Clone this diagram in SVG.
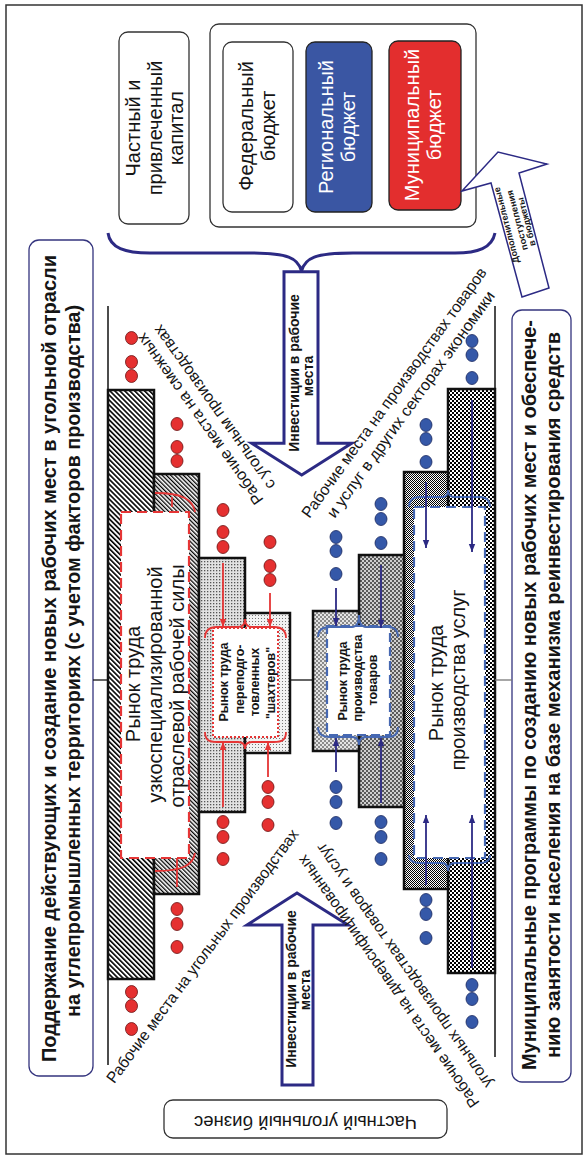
<svg xmlns="http://www.w3.org/2000/svg" width="586" height="1157" viewBox="0 0 586 1157">
<defs>
<style>
text{font-family:"Liberation Sans",Arial,sans-serif;fill:#151515}
.b{font-weight:bold}
.w{fill:#fff}
.box{fill:#fff;stroke:#333;stroke-width:1.3}
.nbox{fill:#fff;stroke:#34347e;stroke-width:1.3}
.arrow{fill:#fff;stroke:#2c2a84;stroke-width:3}
.brace{fill:none;stroke:#2c2a84;stroke-width:3}
.rl{stroke:#e53535;stroke-width:1.8;fill:none}
.bl{stroke:#2c2a84;stroke-width:1.8;fill:none}
.bbr{stroke:#4668b2;stroke-width:1.8;fill:none}
.step{stroke:#111;stroke-width:2.5}
.rd{fill:#e53030;stroke:#6a1010;stroke-width:0.8}
.bd{fill:#3558a8;stroke:#1a2860;stroke-width:0.8}
</style>
<marker id="mr" viewBox="0 0 10 10" refX="10" refY="5" markerWidth="8" markerHeight="8" markerUnits="userSpaceOnUse" orient="auto"><path d="M0,1 L10,5 L0,9 z" fill="#e53535"/></marker>
<marker id="mb" viewBox="0 0 10 10" refX="10" refY="5" markerWidth="8" markerHeight="8" markerUnits="userSpaceOnUse" orient="auto"><path d="M0,1 L10,5 L0,9 z" fill="#2c2a84"/></marker>
<pattern id="hA" width="3.5" height="3.5" patternUnits="userSpaceOnUse" patternTransform="rotate(-45)"><rect width="3.5" height="3.5" fill="#fff"/><rect width="1.6" height="3.5" fill="#000"/></pattern>
<pattern id="hB" width="3" height="3" patternUnits="userSpaceOnUse" patternTransform="rotate(-45)"><rect width="3" height="3" fill="#fff"/><rect width="1.3" height="3" fill="#000"/></pattern>
<pattern id="dA" width="3" height="3" patternUnits="userSpaceOnUse"><rect width="3" height="3" fill="#e2e2e2"/><rect width="1.3" height="1.3" fill="#555"/></pattern>
<pattern id="dB" width="3" height="3" patternUnits="userSpaceOnUse"><rect width="3" height="3" fill="#f2f2f2"/><rect width="1" height="1" fill="#777"/></pattern>
<pattern id="cA" width="4" height="4" patternUnits="userSpaceOnUse"><rect width="4" height="4" fill="#fff"/><rect width="2" height="2" fill="#000"/><rect x="2" y="2" width="2" height="2" fill="#000"/></pattern>
<pattern id="cB" width="2" height="2" patternUnits="userSpaceOnUse"><rect width="2" height="2" fill="#fff"/><rect width="1" height="1" fill="#000"/><rect x="1" y="1" width="1" height="1" fill="#000"/></pattern>
<pattern id="cC" width="4" height="4" patternUnits="userSpaceOnUse"><rect width="4" height="4" fill="#cfcfcf"/><rect width="2" height="2" fill="#5a5a5a"/><rect x="2" y="2" width="2" height="2" fill="#5a5a5a"/></pattern>
<pattern id="cD" width="4" height="4" patternUnits="userSpaceOnUse"><rect width="4" height="4" fill="#e4e4e4"/><rect width="2" height="2" fill="#8a8a8a"/><rect x="2" y="2" width="2" height="2" fill="#8a8a8a"/></pattern>
<ellipse id="dr" rx="6" ry="6.5" class="rd"/>
<ellipse id="db" rx="6" ry="6.5" class="bd"/>
</defs>

<rect id="frame" x="6" y="5" width="576" height="1149" fill="#fff" stroke="#333" stroke-width="1.5"/>

<g id="node-left-title">
<rect class="nbox" x="29" y="240" width="64" height="836" rx="10"/>
<text class="b" font-size="20" text-anchor="middle" transform="translate(56,658.5) rotate(-90)" textLength="807" lengthAdjust="spacingAndGlyphs">Поддержание действующих и создание новых рабочих мест в угольной отрасли</text>
<text class="b" font-size="20" text-anchor="middle" transform="translate(80,661) rotate(-90)" textLength="712" lengthAdjust="spacingAndGlyphs">на углепромышленных территориях (с учетом факторов производства)</text>
</g>

<g id="node-right-title">
<rect class="nbox" x="512" y="310" width="59" height="772" rx="10"/>
<text class="b" font-size="20" text-anchor="middle" transform="translate(536,695) rotate(-90)" textLength="750" lengthAdjust="spacingAndGlyphs">Муниципальные программы по созданию новых рабочих мест и обеспече-</text>
<text class="b" font-size="20" text-anchor="middle" transform="translate(560,695) rotate(-90)" textLength="726" lengthAdjust="spacingAndGlyphs">нию занятости населения на базе механизма реинвестирования средств</text>
</g>

<g id="node-private-capital">
<rect class="box" x="119" y="32" width="70" height="192" rx="9"/>
<text font-size="20" text-anchor="middle" transform="translate(140,128) rotate(-90)">Частный и</text>
<text font-size="20" text-anchor="middle" transform="translate(161.5,128) rotate(-90)">привлеченный</text>
<text font-size="20" text-anchor="middle" transform="translate(183,128) rotate(-90)">капитал</text>
</g>

<g id="node-budgets">
<rect class="box" x="210" y="24" width="266" height="203" rx="9"/>
</g>
<g id="node-federal">
<rect class="box" x="223" y="42" width="70" height="170" rx="9"/>
<text font-size="20" text-anchor="middle" transform="translate(253,126) rotate(-90)">Федеральный</text>
<text font-size="20" text-anchor="middle" transform="translate(275,126) rotate(-90)">бюджет</text>
</g>
<g id="node-regional">
<rect x="306" y="42" width="66" height="170" rx="9" fill="#3a56a3" stroke="#222" stroke-width="1.3"/>
<text class="w" font-size="20" text-anchor="middle" transform="translate(333,127) rotate(-90)">Региональный</text>
<text class="w" font-size="20" text-anchor="middle" transform="translate(355,127) rotate(-90)">бюджет</text>
</g>
<g id="node-municipal">
<rect x="389" y="41" width="72" height="169" rx="9" fill="#e32e2e" stroke="#222" stroke-width="1.3"/>
<text class="w" font-size="20" text-anchor="middle" transform="translate(419,125) rotate(-90)">Муниципальный</text>
<text class="w" font-size="20" text-anchor="middle" transform="translate(441,125) rotate(-90)">бюджет</text>
</g>

<g id="node-private-coal">
<rect class="box" x="164" y="1100" width="283" height="38" rx="9"/>
<text font-size="18" text-anchor="middle" transform="translate(305.6,1116) rotate(180)" textLength="223" lengthAdjust="spacingAndGlyphs">Частный угольный бизнес</text>
</g>

<g id="staircase-left">
<line x1="108" y1="306" x2="108" y2="390" stroke="#111" stroke-width="1.5"/>
<line x1="108" y1="979" x2="108" y2="1065" stroke="#111" stroke-width="1.5"/>
<rect class="step" x="108" y="390" width="46" height="589" fill="url(#hA)"/>
<rect class="step" x="154" y="474" width="45" height="420" fill="url(#hB)"/>
<rect class="step" x="199" y="558" width="46" height="254" fill="url(#dA)"/>
<rect class="step" x="245" y="613" width="45" height="140" fill="url(#dB)"/>
</g>

<g id="staircase-right">
<line x1="495" y1="306" x2="495" y2="389" stroke="#111" stroke-width="1.5"/>
<line x1="495" y1="973" x2="495" y2="1057" stroke="#111" stroke-width="1.5"/>
<rect class="step" x="448" y="389" width="47" height="584" fill="url(#cA)"/>
<rect class="step" x="404" y="472" width="44" height="417" fill="url(#cB)"/>
<rect class="step" x="359" y="555" width="45" height="252" fill="url(#cC)"/>
<rect class="step" x="313" y="611" width="46" height="140" fill="url(#cD)"/>
</g>

<g id="node-market-coal">
<rect x="121" y="512" width="68" height="346" fill="#fff" stroke="#e53535" stroke-width="2.2" stroke-dasharray="10,6"/>
<text font-size="20" text-anchor="middle" transform="translate(139.5,684) rotate(-90)">Рынок  труда</text>
<text font-size="20" text-anchor="middle" transform="translate(161.5,684.5) rotate(-90)">узкоспециализированной</text>
<text font-size="20" text-anchor="middle" transform="translate(183.5,686) rotate(-90)">отраслевой рабочей силы</text>
</g>

<g id="node-market-miners">
<rect x="213" y="628" width="65" height="109" fill="#fff" stroke="#e53535" stroke-width="2" stroke-dasharray="2,2"/>
<text class="b" font-size="12.5" text-anchor="middle" transform="translate(228,682) rotate(-90)">Рынок  труда</text>
<text class="b" font-size="12.5" text-anchor="middle" transform="translate(243.5,679) rotate(-90)">переподго-</text>
<text class="b" font-size="12.5" text-anchor="middle" transform="translate(259,682) rotate(-90)">товленных</text>
<text class="b" font-size="12.5" text-anchor="middle" transform="translate(274.5,683) rotate(-90)">"шахтеров"</text>
</g>

<g id="node-market-goods">
<rect x="327" y="626" width="63" height="109" fill="#fff" stroke="#4668b2" stroke-width="2.2" stroke-dasharray="9,5"/>
<text class="b" font-size="12.5" text-anchor="middle" transform="translate(347,681) rotate(-90)">Рынок  труда</text>
<text class="b" font-size="12.5" text-anchor="middle" transform="translate(362,678) rotate(-90)">производства</text>
<text class="b" font-size="12.5" text-anchor="middle" transform="translate(377,680) rotate(-90)">товаров</text>
</g>

<g id="node-market-services">
<rect x="414" y="507" width="71" height="351" fill="#fff" stroke="#4668b2" stroke-width="2.2" stroke-dasharray="10,6"/>
<text font-size="20" text-anchor="middle" transform="translate(443,683) rotate(-90)">Рынок  труда</text>
<text font-size="20" text-anchor="middle" transform="translate(465,680) rotate(-90)">производства услуг</text>
</g>

<g id="dots">
<use href="#dr" x="131.5" y="338"/><use href="#dr" x="131.5" y="362"/><use href="#dr" x="131.5" y="376"/>
<use href="#dr" x="177" y="424"/><use href="#dr" x="177" y="447"/><use href="#dr" x="177" y="461"/>
<use href="#dr" x="223" y="510"/><use href="#dr" x="223" y="532"/><use href="#dr" x="223" y="547"/>
<use href="#dr" x="270" y="542"/><use href="#dr" x="270" y="566"/><use href="#dr" x="270" y="580"/>
<use href="#dr" x="268" y="787"/><use href="#dr" x="268" y="802"/><use href="#dr" x="268" y="825"/>
<use href="#dr" x="223" y="822"/><use href="#dr" x="223" y="837"/><use href="#dr" x="223" y="859"/>
<use href="#dr" x="177" y="909"/><use href="#dr" x="177" y="924"/><use href="#dr" x="177" y="947"/>
<use href="#dr" x="131.5" y="992"/><use href="#dr" x="131.5" y="1006"/><use href="#dr" x="131.5" y="1029"/>
<use href="#db" x="472" y="341"/><use href="#db" x="472" y="355"/><use href="#db" x="472" y="378"/>
<use href="#db" x="426" y="425"/><use href="#db" x="426" y="439"/><use href="#db" x="426" y="462"/>
<use href="#db" x="381" y="504"/><use href="#db" x="381" y="519"/><use href="#db" x="381" y="543"/>
<use href="#db" x="336" y="537"/><use href="#db" x="336" y="551"/><use href="#db" x="336" y="574"/>
<use href="#db" x="336" y="787"/><use href="#db" x="336" y="802"/><use href="#db" x="336" y="823"/>
<use href="#db" x="381" y="822"/><use href="#db" x="381" y="837"/><use href="#db" x="381" y="859"/>
<use href="#db" x="426" y="900"/><use href="#db" x="426" y="914"/><use href="#db" x="426" y="938"/>
<use href="#db" x="472" y="985"/><use href="#db" x="472" y="999"/><use href="#db" x="472" y="1022"/>
</g>

<g id="connectors">
<line x1="93" y1="680" x2="108" y2="680" stroke="#111" stroke-width="1.3"/>
<line x1="290" y1="680" x2="313" y2="680" stroke="#111" stroke-width="1.3"/>
<line x1="495" y1="680" x2="512" y2="680" stroke="#777" stroke-width="1.3"/>
<path class="brace" d="M108,233 C110,248 125,253 150,253 L250,253 C288,253 298,258 301.5,271 C305,258 315,253 353,253 L455,253 C478,253 492,248 495,233"/>
<path class="arrow" d="M284,271.7 L318,271.7 L318,443.3 L351.7,443.3 L301.7,475 L251.7,443.3 L284,443.3 Z"/>
<path class="arrow" d="M282,1085 L313,1085 L313,925 L348,925 L297,893 L247,925 L282,925 Z"/>
<path d="M462,191 L498,152 L547,164 L519,173 L549,288 L522,297 L491,183 Z" fill="#fff" stroke="#2c2a84" stroke-width="1.5"/>
<path class="rl" d="M155,493 C183,493 193,500 195,512"/>
<line class="rl" x1="172" y1="497" x2="172" y2="507"/>
<path class="rl" d="M155,871 C183,871 193,865 195,853"/>
<line class="rl" x1="177" y1="858" x2="177" y2="887"/>
<path class="rl" d="M205,638 C205,630 209,627 217,627 L238,627 C243,627 245,624 245,619 C245,624 247,627 252,627 L274,627 C282,627 286,630 286,638"/>
<path class="rl" d="M205,732 C205,740 209,742 217,742 L238,742 C243,742 245,745 245,749 C245,745 247,742 252,742 L274,742 C282,742 286,740 286,732"/>
<line class="rl" x1="223" y1="563" x2="223" y2="627" marker-end="url(#mr)"/>
<line class="rl" x1="270" y1="593" x2="270" y2="627" marker-end="url(#mr)"/>
<line class="rl" x1="223" y1="807" x2="223" y2="742" marker-end="url(#mr)"/>
<line class="rl" x1="268" y1="777" x2="268" y2="742" marker-end="url(#mr)"/>
<path class="bbr" d="M318,637 C318,630 322,627 330,627 L352,627 C357,627 359,622 359,615 C359,622 361,627 366,627 L388,627 C395,627 398,630 398,637"/>
<path class="bbr" d="M318,727 C318,734 322,737 330,737 L352,737 C357,737 359,740 359,745 C359,740 361,737 366,737 L388,737 C395,737 398,734 398,727"/>
<line class="bl" x1="336" y1="588" x2="336" y2="626" marker-end="url(#mb)"/>
<line class="bl" x1="381" y1="565" x2="381" y2="628" marker-end="url(#mb)"/>
<line class="bl" x1="336" y1="772" x2="336" y2="738" marker-end="url(#mb)"/>
<line class="bl" x1="381" y1="803" x2="381" y2="738" marker-end="url(#mb)"/>
<path class="bbr" d="M409,507 C409,500 413,497 420,497 L442,497 C446,497 448,495 448,490 C448,495 450,497 455,497 L479,497 C486,497 490,500 490,507"/>
<path class="bbr" d="M409,855 C409,861 413,863 420,863 L442,863 C446,863 448,866 448,871 C448,866 450,863 455,863 L479,863 C486,863 490,861 490,855"/>
<line class="bl" x1="426" y1="482" x2="426" y2="548" marker-end="url(#mb)"/>
<line class="bl" x1="472" y1="400" x2="472" y2="552" marker-end="url(#mb)"/>
<line class="bl" x1="426" y1="885" x2="426" y2="815" marker-end="url(#mb)"/>
<line class="bl" x1="472" y1="968" x2="472" y2="815" marker-end="url(#mb)"/>
</g>

<g id="labels">
<text class="b" font-size="14" text-anchor="middle" transform="translate(299,373) rotate(-90)">Инвестиции в рабочие</text>
<text class="b" font-size="14" text-anchor="middle" transform="translate(313,376) rotate(-90)">места</text>
<text class="b" font-size="14" text-anchor="middle" transform="translate(296,989) rotate(-90)">Инвестиции в рабочие</text>
<text class="b" font-size="14" text-anchor="middle" transform="translate(310,990) rotate(-90)">места</text>
<text class="b" font-size="9" text-anchor="middle" transform="translate(509.4,224.4) rotate(-104.6)" textLength="78" lengthAdjust="spacingAndGlyphs">Дополнительные</text>
<text class="b" font-size="9" text-anchor="middle" transform="translate(520.1,219.5) rotate(-104.6)" textLength="62" lengthAdjust="spacingAndGlyphs">поступления</text>
<text class="b" font-size="9" text-anchor="middle" transform="translate(529.4,221.1) rotate(-104.6)" textLength="50" lengthAdjust="spacingAndGlyphs">в бюджеты</text>
<text font-size="16" text-anchor="middle" transform="translate(204.3,415.9) rotate(-125.5)" textLength="206" lengthAdjust="spacingAndGlyphs">Рабочие места на смежных</text>
<text font-size="16" text-anchor="middle" transform="translate(218.5,404.2) rotate(-125.5)" textLength="198" lengthAdjust="spacingAndGlyphs">с угольным производствах</text>
<text font-size="16" text-anchor="middle" transform="translate(398.5,395.8) rotate(-54.2)" textLength="304" lengthAdjust="spacingAndGlyphs">Рабочие места на производствах товаров</text>
<text font-size="16" text-anchor="middle" transform="translate(415.2,407.5) rotate(-54.2)" textLength="275" lengthAdjust="spacingAndGlyphs">и  услуг в других секторах экономики</text>
<text font-size="16" text-anchor="middle" transform="translate(206.8,959.3) rotate(-53.5)" textLength="311" lengthAdjust="spacingAndGlyphs">Рабочие места на угольных производствах</text>
<text font-size="16" text-anchor="middle" transform="translate(392.7,978.3) rotate(-125)" textLength="304" lengthAdjust="spacingAndGlyphs">Рабочие места на диверсифицированных</text>
<text font-size="16" text-anchor="middle" transform="translate(408.5,962.5) rotate(-125)" textLength="295" lengthAdjust="spacingAndGlyphs">угольных производствах товаров и услуг</text>
</g>
</svg>
